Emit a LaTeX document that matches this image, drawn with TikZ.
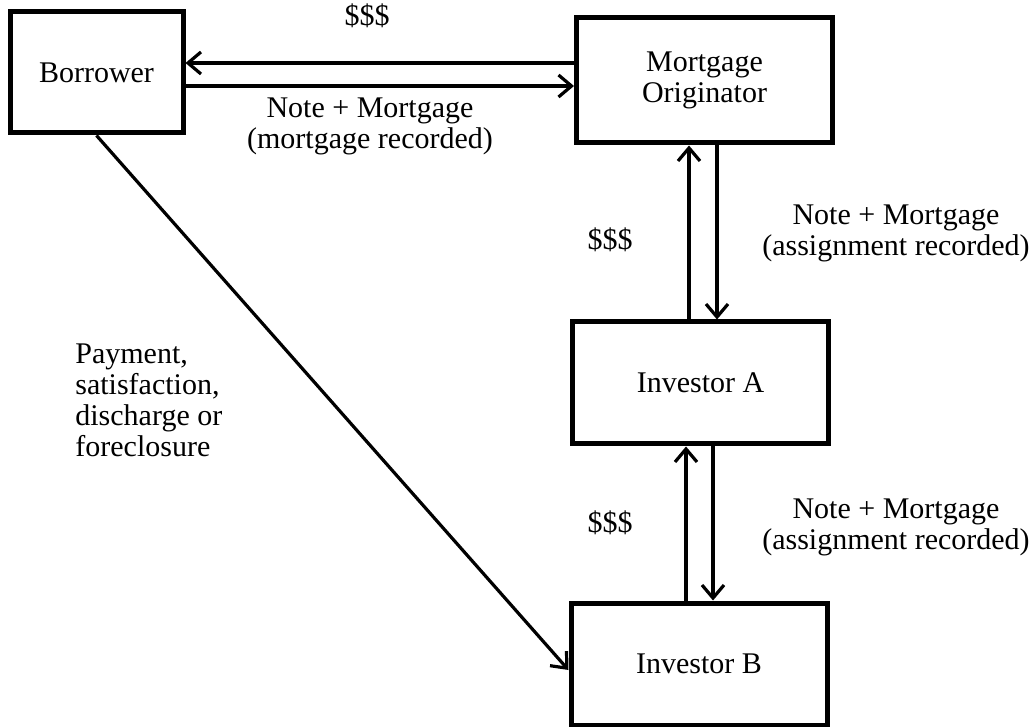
\documentclass[tikz,border=0pt]{standalone}
\usepackage{fontspec}
\setmainfont{Liberation Serif}
\usetikzlibrary{arrows.meta}
\begin{document}
\begin{tikzpicture}[x=0.5pt,y=-0.5pt,
  box/.style={draw=black, line width=2.5pt, minimum width=128pt, minimum height=61pt, inner sep=0pt, align=center, font=\fontsize{15}{15.5}\selectfont},
  arr/.style={line width=1.6pt, -{Straight Barb[length=6.5pt,width=11pt,line width=1.6pt]}},
  lbl/.style={inner sep=0pt, align=center, font=\fontsize{15}{15.5}\selectfont}]
\useasboundingbox (0,0) rectangle (1029,727);
% boxes
\node[box, minimum width=86.5pt, minimum height=60.5pt] (borr) at (96.5,72.5) {Borrower};
\node[box, minimum height=62.5pt] (orig) at (704.5,80.5) {Mortgage\\Originator};
\node[box] (invA) at (700.5,383) {Investor A};
\node[box] (invB) at (699,664) {Investor B};
% helper coordinates
\coordinate (ya) at (0,63);
\coordinate (yb) at (0,86);
\coordinate (x1) at (689,0);
\coordinate (x2) at (717,0);
\coordinate (x3) at (686,0);
\coordinate (x4) at (713,0);
\coordinate (yd) at (0,670);
% arrows
\draw[arr] (orig.west |- ya) -- (borr.east |- ya);
\draw[arr] (borr.east |- yb) -- (orig.west |- yb);
\draw[arr] (x1 |- invA.north) -- (x1 |- orig.south);
\draw[arr] (x2 |- orig.south) -- (x2 |- invA.north);
\draw[arr] (x3 |- invB.north) -- (x3 |- invA.south);
\draw[arr] (x4 |- invA.south) -- (x4 |- invB.north);
\draw[arr] (borr.south) -- (invB.west |- yd);
% labels
\node[lbl] (l1) at (367,16) {\$\$\$};
\node[lbl] (l2) at (370,126) {Note + Mortgage\\(mortgage recorded)};
\node[lbl] (l3) at (610,240) {\$\$\$};
\node[lbl] (l4) at (896,233) {Note + Mortgage\\(assignment recorded)};
\node[lbl] (l5) at (610,523) {\$\$\$};
\node[lbl] (l6) at (896,527) {Note + Mortgage\\(assignment recorded)};
\node[lbl, align=left, anchor=west] (l7) at (75,400) {Payment,\\satisfaction,\\discharge or\\foreclosure};
\end{tikzpicture}
\end{document}
